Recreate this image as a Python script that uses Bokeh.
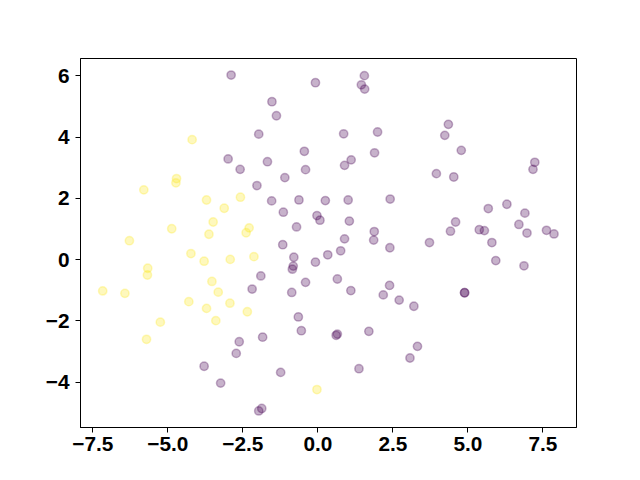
from bokeh.plotting import figure
from bokeh.models import Range1d, FixedTicker, CustomJSTickFormatter, ColumnDataSource
from bokeh.embed import file_html
from bokeh.resources import INLINE

# ---- data ----
purple_x = [-2.89, -2.99, -2.59,
            -2.19, -2.62, -2.72, -3.79, -3.24,
            -1.17, -0.80, 2.40, 0.33, 0.76, -0.08, -0.82, -0.85, -1.90, -0.41,
            0.65, -0.87, 1.10, 2.18, 2.39, 2.71, 3.20, -0.65, -0.55, 0.65,
            0.61, 1.70, -1.84, 3.07, 3.32, -1.24, 1.37, -1.97, -1.87,
            3.72, 5.80, 5.93, 6.87, 4.89, 4.89,
            1.55, -0.08, 1.45, 1.56, -1.53, -1.38, -1.97, 0.86, 1.99, -0.45,
            1.89, -1.68, 1.11, 0.89, -0.41, -1.10, -2.03, -1.54, -0.63, 0.25,
            1.01, 2.41, -1.15, -0.03, 0.07, 1.05, -0.71, 1.88, 1.86, 0.89,
            4.35, 4.23, 4.78, 7.23, 7.17, 3.95, 4.53, 5.68, 6.30, 6.90,
            4.59, 6.70, 4.42, 5.38, 5.55, 6.97, 7.62, 7.87]
purple_y = [6.03, 3.29, 2.95,
            -0.96, -2.68, -3.06, -3.48, -4.03,
            0.49, 0.08, 0.39, 0.16, 0.29, -0.08, -0.21, -0.31, -0.53, -0.74,
            -0.63, -1.07, -1.01, -1.15, -0.84, -1.32, -1.52, -1.87, -2.32, -2.43,
            -2.47, -2.34, -2.53, -3.21, -2.83, -3.68, -3.56, -4.94, -4.86,
            0.56, 0.56, -0.03, -0.20, -1.08, -1.08,
            6.01, 5.78, 5.71, 5.57, 5.16, 4.70, 4.10, 4.11, 4.17, 3.54,
            3.49, 3.20, 3.26, 3.08, 2.94, 2.68, 2.42, 1.92, 1.95, 1.93,
            1.95, 1.98, 1.55, 1.44, 1.29, 1.26, 1.07, 0.92, 0.64, 0.68,
            4.42, 4.06, 3.57, 3.18, 2.95, 2.81, 2.70, 1.67, 1.81, 1.52,
            1.23, 1.15, 0.93, 0.98, 0.95, 0.87, 0.96, 0.84]

yellow_x = [-4.19, -4.71, -4.73, -5.80, -3.71, -2.58, -3.12, -3.49, -4.87, -3.63,
            -2.39, -2.29, -6.28, -4.23, -3.79, -2.92, -2.13, -5.67, -5.68, -7.17,
            -6.43, -3.53, -3.32, -4.30, -2.93, -3.71, -2.35, -3.40, -5.25, -5.71,
            -0.03]
yellow_y = [3.92, 2.65, 2.51, 2.28, 1.95, 2.04, 1.68, 1.23, 1.01, 0.83,
            0.88, 1.04, 0.62, 0.20, -0.05, 0.01, 0.10, -0.28, -0.50, -1.02,
            -1.10, -0.71, -1.06, -1.37, -1.42, -1.59, -1.70, -1.99, -2.04, -2.60,
            -4.24]

x_ticks = [-7.5, -5.0, -2.5, 0.0, 2.5, 5.0, 7.5]
y_ticks = [-4, -2, 0, 2, 4, 6]

PURPLE = "#440154"
YELLOW = "#fde725"

p = figure(width=624, height=464, output_backend="svg", toolbar_location=None,
           x_range=Range1d(-7.91, 8.62), y_range=Range1d(-5.48, 6.57),
           min_border_left=80, min_border_right=48, min_border_top=58, min_border_bottom=37)

p.background_fill_color = "white"
p.border_fill_color = "white"
p.outline_line_color = "black"
p.outline_line_width = 1
p.xgrid.visible = False
p.ygrid.visible = False

src_p = ColumnDataSource(dict(x=purple_x, y=purple_y))
src_y = ColumnDataSource(dict(x=yellow_x, y=yellow_y))
for src, col in ((src_p, PURPLE), (src_y, YELLOW)):
    p.scatter("x", "y", source=src, size=8.3, marker="circle",
              fill_color=col, line_color=col, fill_alpha=0.3, line_alpha=0.3,
              line_width=1.5)

p.xaxis.ticker = FixedTicker(ticks=x_ticks)
p.yaxis.ticker = FixedTicker(ticks=y_ticks)
p.xaxis.formatter = CustomJSTickFormatter(
    code="return (tick < 0 ? '\u2212' : '') + Math.abs(tick).toFixed(1);")
p.yaxis.formatter = CustomJSTickFormatter(
    code="return (tick < 0 ? '\u2212' : '') + Math.abs(tick).toFixed(0);")

for ax in (p.xaxis[0], p.yaxis[0]):
    ax.axis_line_color = "black"
    ax.axis_line_width = 1
    ax.major_tick_line_color = "black"
    ax.major_tick_line_width = 1
    ax.major_tick_in = 0
    ax.major_tick_out = 5
    ax.minor_tick_line_color = None
    ax.major_label_text_font = "Liberation Sans"
    ax.major_label_text_font_style = "bold"
    ax.major_label_text_font_size = "20.8px"
    ax.major_label_text_color = "black"
p.xaxis.major_label_standoff = 4
p.yaxis.major_label_standoff = 6

open("out.html", "w").write(file_html(p, INLINE))
